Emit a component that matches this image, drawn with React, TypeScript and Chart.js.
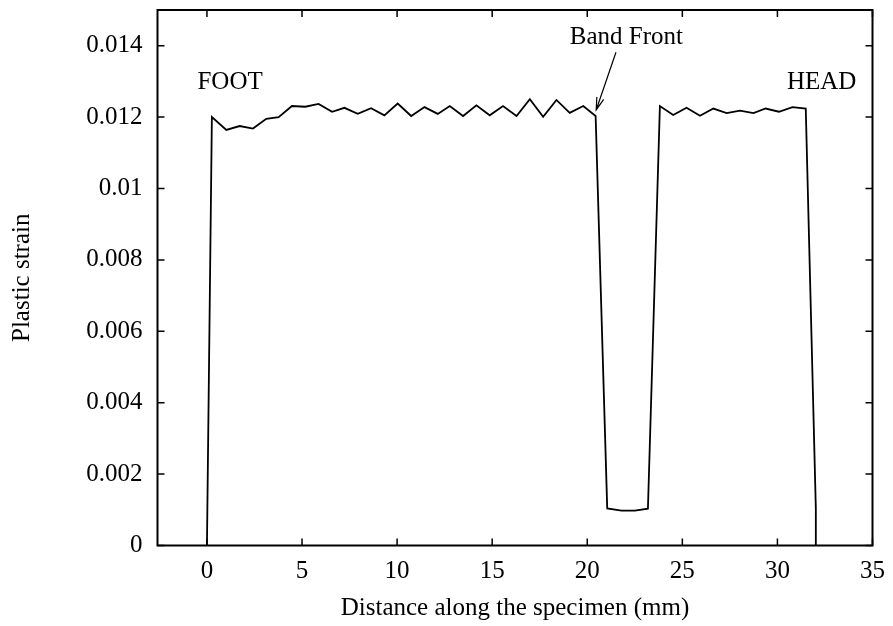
import React, { useEffect, useRef } from "react";
import { Chart, registerables } from "chart.js";

Chart.register(...registerables);

// Distance along the specimen (mm)
const distance = [
  0, 0.26, 1.02, 1.72, 2.42, 3.12, 3.77, 4.47, 5.17, 5.87,
  6.58, 7.23, 7.93, 8.63, 9.33, 10.03, 10.74, 11.44, 12.14, 12.77,
  13.47, 14.17, 14.87, 15.57, 16.28, 16.98, 17.68, 18.38, 19.08, 19.79,
  20.44, 21.05, 21.8, 22.5, 23.19, 23.82, 24.52, 25.22, 25.93, 26.63,
  27.33, 28.03, 28.74, 29.38, 30.08, 30.79, 31.49, 32.02, 32.02,
];

// Plastic strain
const strain = [
  0, 0.012, 0.01164, 0.01175, 0.01168, 0.01195, 0.012, 0.01231, 0.01229, 0.01237,
  0.01215, 0.01226, 0.01209, 0.01225, 0.01205, 0.01238, 0.01203, 0.01228, 0.01209, 0.01231,
  0.01203, 0.01233, 0.01205, 0.01231, 0.01203, 0.0125, 0.01201, 0.01248, 0.01212, 0.01231,
  0.01203, 0.00104, 0.000975, 0.000975, 0.00103, 0.01231, 0.01206, 0.01226, 0.01204, 0.01224,
  0.01211, 0.01218, 0.01211, 0.01224, 0.01215, 0.01228, 0.01224, 0.00104, 0,
];

const xTickValues = [0, 5, 10, 15, 20, 25, 30, 35];
const yTickValues = [0, 0.002, 0.004, 0.006, 0.008, 0.01, 0.012, 0.014];

const labelTexts = ["FOOT", "HEAD", "Band Front"];
const labelX = [-0.5, 30.5, 22.06];
const labelY = [0.0128, 0.0128, 0.01404];
const labelAlign: CanvasTextAlign[] = ["left", "left", "center"];

const arrowStart = [21.51, 0.013815];
const arrowEnd = [20.47, 0.0122];

const FONT = "'Liberation Serif', 'Times New Roman', serif";

const framePlugin = {
  id: "gnuFrame",
  afterDraw(chart: any) {
    const ctx = chart.ctx as CanvasRenderingContext2D;
    const { left, right, top, bottom } = chart.chartArea;
    const xs = chart.scales.x;
    const ys = chart.scales.y;
    const tickLen = 7;
    ctx.save();
    ctx.strokeStyle = "#000";
    ctx.lineWidth = 1.5;
    ctx.beginPath();
    for (const v of xTickValues) {
      const px = xs.getPixelForValue(v);
      ctx.moveTo(px, bottom);
      ctx.lineTo(px, bottom - tickLen);
      ctx.moveTo(px, top);
      ctx.lineTo(px, top + tickLen);
    }
    for (const v of yTickValues) {
      const py = ys.getPixelForValue(v);
      ctx.moveTo(left, py);
      ctx.lineTo(left + tickLen, py);
      ctx.moveTo(right, py);
      ctx.lineTo(right - tickLen, py);
    }
    ctx.stroke();
    ctx.lineWidth = 2;
    ctx.strokeRect(left, top, right - left, bottom - top);

    // labels
    ctx.fillStyle = "#000";
    ctx.font = `25px ${FONT}`;
    ctx.textBaseline = "alphabetic";
    for (let i = 0; i < labelTexts.length; i++) {
      ctx.textAlign = labelAlign[i];
      ctx.fillText(labelTexts[i], xs.getPixelForValue(labelX[i]), ys.getPixelForValue(labelY[i]));
    }

    // arrow
    const x0 = xs.getPixelForValue(arrowStart[0]);
    const y0 = ys.getPixelForValue(arrowStart[1]);
    const x1 = xs.getPixelForValue(arrowEnd[0]);
    const y1 = ys.getPixelForValue(arrowEnd[1]);
    ctx.lineWidth = 1.2;
    ctx.beginPath();
    ctx.moveTo(x0, y0);
    ctx.lineTo(x1, y1);
    const ang = Math.atan2(y1 - y0, x1 - x0);
    const hl = 13;
    const ha = 0.28;
    ctx.moveTo(x1 - hl * Math.cos(ang - ha), y1 - hl * Math.sin(ang - ha));
    ctx.lineTo(x1, y1);
    ctx.lineTo(x1 - hl * Math.cos(ang + ha), y1 - hl * Math.sin(ang + ha));
    ctx.stroke();
    ctx.restore();
  },
};

export default function App() {
  const ref = useRef<HTMLCanvasElement | null>(null);
  useEffect(() => {
    if (!ref.current) return;
    Chart.defaults.font.family = FONT;
    Chart.defaults.color = "#000";
    const chart = new Chart(ref.current, {
      type: "scatter",
      data: {
        datasets: [
          {
            data: distance.map((x, i) => ({ x, y: strain[i] })),
            showLine: true,
            borderColor: "#000",
            borderWidth: 1.8,
            pointRadius: 0,
            tension: 0,
          },
        ],
      },
      options: {
        responsive: false,
        animation: false,
        devicePixelRatio: 1,
        layout: { padding: { left: 0, top: 10, right: 20.5, bottom: 0 } },
        plugins: { legend: { display: false }, tooltip: { enabled: false } },
        scales: {
          x: {
            type: "linear",
            min: -2.6,
            max: 35,
            grid: { display: false, drawTicks: false },
            border: { display: false },
            afterBuildTicks: (s: any) => {
              s.ticks = xTickValues.map((v) => ({ value: v }));
            },
            afterFit: (s: any) => {
              s.height = 80.5;
              s.paddingLeft = 0;
              s.paddingRight = 0;
            },
            ticks: {
              font: { size: 25, family: FONT },
              color: "#000",
              padding: 11,
              maxRotation: 0,
              autoSkip: false,
              callback: (v: any) => String(v),
            },
            title: {
              display: true,
              text: "Distance along the specimen (mm)",
              font: { size: 25, family: FONT },
              color: "#000",
              padding: { top: 0, bottom: 3 },
            },
          },
          y: {
            type: "linear",
            min: 0,
            max: 0.015,
            grid: { display: false, drawTicks: false },
            border: { display: false },
            afterBuildTicks: (s: any) => {
              s.ticks = yTickValues.map((v) => ({ value: v }));
            },
            afterFit: (s: any) => {
              s.width = 157.5;
              s.paddingTop = 0;
              s.paddingBottom = 0;
            },
            ticks: {
              font: { size: 25, family: FONT },
              color: "#000",
              padding: 15,
              autoSkip: false,
              callback: (v: any) => String(+Number(v).toFixed(4)),
            },
            title: {
              display: true,
              text: "Plastic strain",
              font: { size: 25, family: FONT },
              color: "#000",
              padding: { top: 7, bottom: 0 },
            },
          },
        },
      },
      plugins: [framePlugin],
    });
    return () => chart.destroy();
  }, []);
  return (
    <div style={{ position: "absolute", left: 0, top: 0, width: 893, height: 626 }}>
      <canvas ref={ref} width={893} height={626} />
    </div>
  );
}
